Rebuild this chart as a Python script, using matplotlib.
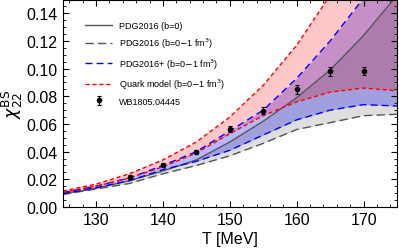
import matplotlib
matplotlib.use("Agg")
import matplotlib.pyplot as plt
from matplotlib.ticker import MultipleLocator, AutoMinorLocator

plt.rcParams["font.family"] = ["Liberation Sans", "DejaVu Sans"]

# temperature grid (MeV)
T = [125, 130, 135, 140, 145, 150, 155, 160, 165, 170, 175]

# PDG2016 b=0 (solid) and b=1 fm^3 (dashed)
pdg_b0 = [0.0095, 0.0135, 0.019, 0.026, 0.034, 0.047, 0.062, 0.079, 0.099, 0.124, 0.153]
pdg_b1 = [0.0090, 0.0130, 0.017, 0.024, 0.030, 0.037, 0.046, 0.056, 0.061, 0.066, 0.067]

# PDG2016+ band
pdgp_up = [0.0105, 0.015, 0.021, 0.030, 0.040, 0.055, 0.070, 0.093, 0.120, 0.151, 0.190]
pdgp_lo = [0.0095, 0.014, 0.019, 0.027, 0.033, 0.041, 0.052, 0.063, 0.070, 0.074, 0.073]

# Quark model band
qm_up = [0.0115, 0.0165, 0.024, 0.034, 0.047, 0.065, 0.088, 0.117, 0.153, 0.190, 0.230]
qm_lo = [0.0105, 0.015, 0.021, 0.029, 0.039, 0.053, 0.066, 0.076, 0.083, 0.086, 0.084]

# lattice data WB1805.04445
T_lat = [135, 140, 145, 150, 155, 160, 165, 170]
chi_lat = [0.0217, 0.0303, 0.0400, 0.0565, 0.0695, 0.0850, 0.0980, 0.0985]
err_lat = [0.0012, 0.0015, 0.0015, 0.0020, 0.0025, 0.0030, 0.0030, 0.0030]

fig = plt.figure(figsize=(3.99, 2.53), dpi=100)
ax = fig.add_axes([0.157, 0.178, 0.838, 0.82])

ax.fill_between(T, pdgp_lo, pdgp_up, color="blue", alpha=0.28, lw=0)
ax.fill_between(T, qm_lo, qm_up, color="red", alpha=0.22, lw=0)
ax.fill_between(T, pdg_b1, pdg_b0, color="black", alpha=0.13, lw=0)

ax.plot(T, pdg_b0, color="#555555", lw=1.0, label="PDG2016 (b=0)")
ax.plot(T, pdg_b1, color="#555555", lw=1.0, ls=(0, (6, 3)), label="PDG2016 (b=0$-$1 fm$^3$)")
ax.plot(T, pdgp_up, color="blue", lw=1.0, ls=(0, (5, 3)), label="PDG2016+ (b=0$-$1 fm$^3$)")
ax.plot(T, pdgp_lo, color="blue", lw=1.0, ls=(0, (5, 3)))
ax.plot(T, qm_up, color="red", lw=1.0, ls=(0, (3, 2)), label="Quark model (b=0$-$1 fm$^3$)")
ax.plot(T, qm_lo, color="red", lw=1.0, ls=(0, (3, 2)))
ax.errorbar(T_lat, chi_lat, yerr=err_lat, fmt="o", color="black", ms=3, capsize=1.5,
            elinewidth=0.8, capthick=0.8, label="WB1805.04445")

ax.set_xlim(125, 175)
ax.set_ylim(0, 0.15)
ax.xaxis.set_major_locator(MultipleLocator(10))
ax.xaxis.set_minor_locator(AutoMinorLocator(5))
ax.yaxis.set_major_locator(MultipleLocator(0.02))
ax.yaxis.set_minor_locator(AutoMinorLocator(4))
ax.yaxis.set_major_formatter(plt.FormatStrFormatter("%.2f"))
ax.tick_params(which="both", direction="in", top=True, right=True, labelsize=11.5)
ax.tick_params(which="major", length=4)
ax.tick_params(which="minor", length=2)

ax.set_xlabel("T [MeV]", fontsize=11.5, labelpad=3)
ax.set_ylabel(r"$\chi_{22}^{\mathrm{BS}}$", fontsize=12.5, labelpad=1)

ax.legend(loc="upper left", fontsize=6.5, frameon=False, handlelength=3.0,
          borderaxespad=0.6, labelspacing=0.65, bbox_to_anchor=(0.04, 0.94))

fig.savefig("out.png", dpi=100)
